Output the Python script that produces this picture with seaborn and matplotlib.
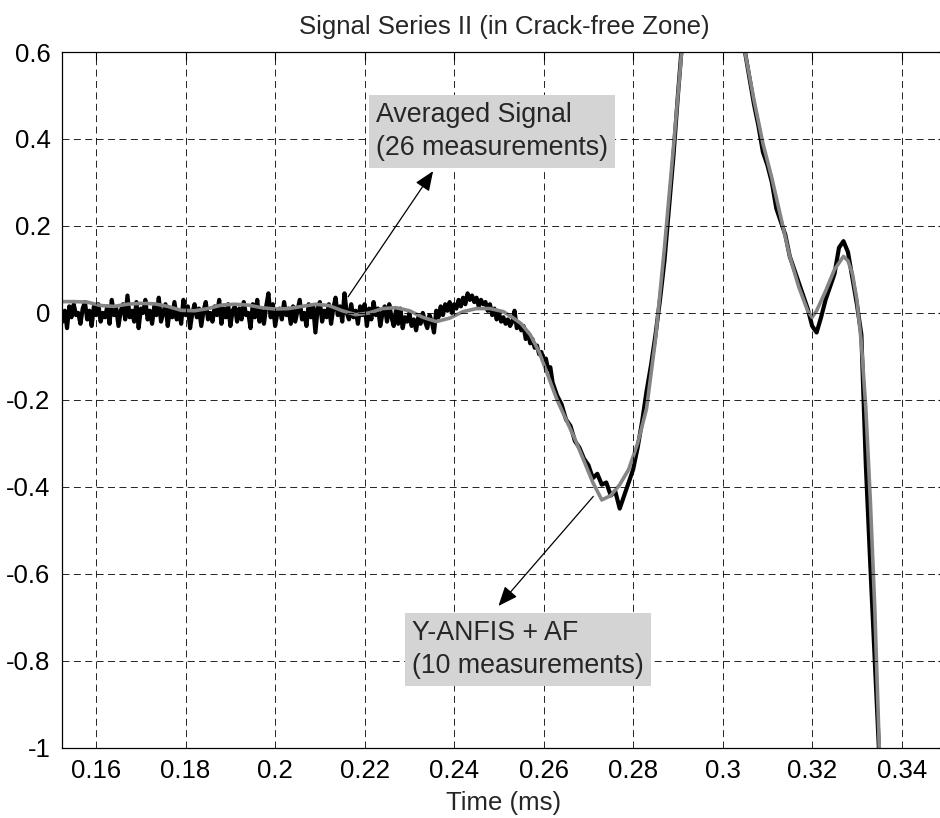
import numpy as np
import pandas as pd
import matplotlib
matplotlib.use("Agg")
import matplotlib.pyplot as plt
import seaborn as sns

# averaged signal (26 measurements), noisy part sampled every 0.0005 ms
t_avg_fine = np.round(0.152 + 0.0005 * np.arange(220), 4)
avg_fine = [
    0.01, -0.02, 0.005, -0.035, 0.015, -0.01, 0.02, -0.005, 0.0, -0.025,
    0.01, 0.025, -0.015, 0.005, -0.03, 0.015, -0.005, 0.02, -0.02, 0.0,
    -0.01, 0.015, -0.025, 0.03, -0.005, 0.01, -0.03, 0.005, 0.02, -0.015,
    0.04, -0.01, 0.005, -0.02, 0.025, -0.035, 0.01, 0.0, 0.03, -0.015,
    0.005, -0.025, 0.015, -0.005, 0.035, -0.02, 0.0, 0.02, -0.03, 0.01,
    -0.01, 0.025, -0.015, 0.005, -0.025, 0.03, -0.005, 0.015, -0.035, 0.0,
    0.02, -0.01, 0.01, -0.03, 0.005, 0.025, -0.015, 0.0, -0.02, 0.015,
    -0.005, 0.03, -0.025, 0.01, -0.01, 0.02, -0.03, 0.005, 0.015, -0.02,
    0.01, -0.015, 0.025, -0.005, 0.0, -0.035, 0.02, -0.01, 0.03, -0.02,
    0.005, -0.025, 0.015, 0.045, -0.01, 0.02, -0.03, 0.0, 0.01, -0.015,
    0.025, -0.005, 0.01, -0.025, 0.015, -0.02, 0.005, 0.03, -0.015, 0.0,
    -0.03, 0.02, -0.01, 0.015, -0.045, 0.01, 0.025, -0.02, 0.005, -0.01,
    0.02, -0.025, 0.01, 0.035, -0.005, 0.015, -0.02, 0.045, 0.0, -0.015,
    0.02, -0.01, 0.005, -0.025, 0.015, -0.005, 0.02, -0.03, 0.01, -0.015,
    0.025, -0.005, 0.01, -0.03, 0.0, 0.015, -0.02, 0.02, -0.01, -0.03,
    0.005, -0.025, 0.01, -0.035, -0.01, -0.02, 0.0, -0.03, -0.015, -0.04,
    -0.01, -0.025, 0.0, -0.02, -0.035, -0.005, -0.02, -0.045, 0.005, -0.01,
    0.015, -0.005, 0.02, 0.005, 0.025, 0.0, 0.02, 0.01, 0.03, 0.015,
    0.035, 0.02, 0.045, 0.03, 0.04, 0.025, 0.035, 0.015, 0.03, 0.02,
    0.025, 0.005, 0.02, -0.005, 0.01, -0.015, 0.0, -0.02, -0.01, -0.025,
    -0.015, -0.03, -0.02, 0.005, -0.035, -0.025, -0.04, -0.03, -0.06, -0.045,
    -0.07, -0.06, -0.08, -0.075, -0.095, -0.09, -0.11, -0.105, -0.13, -0.125,
]

# averaged signal, rest sampled every 0.001 ms
t_avg_coarse = np.round(0.262 + 0.001 * np.arange(74), 3)
avg_coarse = [
    -0.16, -0.19, -0.21, -0.245, -0.26, -0.295, -0.31, -0.335, -0.35, -0.38,
    -0.37, -0.395, -0.39, -0.42, -0.41, -0.45, -0.42, -0.39, -0.36, -0.31,
    -0.25, -0.18, -0.12, -0.05, 0.03, 0.12, 0.24, 0.36, 0.50, 0.63,
    0.76, 0.87, 0.95, 1.0, 1.02, 1.01, 0.98, 0.93, 0.86, 0.79,
    0.73, 0.69, 0.65, 0.60, 0.54, 0.48, 0.43, 0.37, 0.34, 0.30,
    0.24, 0.21, 0.18, 0.13, 0.10, 0.07, 0.04, 0.01, -0.03, -0.045,
    -0.01, 0.03, 0.06, 0.09, 0.15, 0.165, 0.14, 0.08, 0.02, -0.05,
    -0.35, -0.58, -0.80, -1.02,
]

# Y-ANFIS + AF (10 measurements)
t_anfis = [0.152, 0.155, 0.158, 0.161, 0.164, 0.167, 0.170, 0.173, 0.176, 0.179,
           0.182, 0.185, 0.188, 0.191, 0.194, 0.197, 0.200, 0.203, 0.206, 0.209,
           0.212, 0.215, 0.218, 0.221, 0.224, 0.227, 0.230, 0.233, 0.236, 0.239,
           0.242, 0.245, 0.248, 0.251, 0.253, 0.255, 0.257, 0.259, 0.261, 0.263,
           0.265, 0.267, 0.269, 0.271, 0.273, 0.275, 0.277, 0.279, 0.281, 0.283,
           0.285, 0.287, 0.289, 0.291, 0.293, 0.295, 0.297, 0.299, 0.301, 0.303,
           0.305, 0.307, 0.309, 0.311, 0.313, 0.315, 0.317, 0.319, 0.320, 0.321,
           0.323, 0.325, 0.327, 0.328, 0.329, 0.330, 0.331, 0.332, 0.333, 0.334,
           0.335]
anfis = [0.026, 0.026, 0.025, 0.017, 0.015, 0.02, 0.022, 0.021, 0.015, 0.006,
         0.005, 0.01, 0.018, 0.02, 0.018, 0.012, 0.009, 0.01, 0.015, 0.02,
         0.017, 0.005, -0.004, 0.0, 0.01, 0.012, 0.005, -0.01, -0.02, -0.012,
         0.003, 0.01, 0.01, 0.003, -0.01, -0.025, -0.05, -0.09, -0.145, -0.2,
         -0.245, -0.29, -0.34, -0.39, -0.43, -0.42, -0.395, -0.36, -0.30, -0.22,
         -0.06, 0.15, 0.38, 0.62, 0.84, 0.98, 1.02, 0.96, 0.84, 0.72,
         0.60, 0.49, 0.39, 0.31, 0.22, 0.13, 0.06, 0.005, -0.01, 0.005,
         0.05, 0.1, 0.13, 0.12, 0.09, 0.03, -0.07, -0.22, -0.43, -0.68,
         -1.0]

x_ticks = [0.16, 0.18, 0.2, 0.22, 0.24, 0.26, 0.28, 0.3, 0.32, 0.34]
y_ticks = [0.6, 0.4, 0.2, 0, -0.2, -0.4, -0.6, -0.8, -1]

avg_df = pd.DataFrame({"t": np.concatenate([t_avg_fine, t_avg_coarse]),
                       "v": avg_fine + avg_coarse})
anfis_df = pd.DataFrame({"t": t_anfis, "v": anfis})

sns.set_style("white")
plt.rcParams["font.family"] = ["Liberation Sans", "DejaVu Sans"]
plt.rcParams["lines.scale_dashes"] = False

fig = plt.figure(figsize=(9.4, 8.18), dpi=100)
ax = fig.add_axes([0.0656, 0.0859, 0.9412, 0.8505])

sns.lineplot(data=avg_df, x="t", y="v", color="black", lw=3.0,
             estimator=None, sort=False, ax=ax)
sns.lineplot(data=anfis_df, x="t", y="v", color="#858585", lw=2.6,
             estimator=None, sort=False, ax=ax)

ax.set_xlim(0.1523, 0.35)
ax.set_ylim(-1, 0.6)
ax.set_xticks(x_ticks)
ax.set_xticklabels(["%g" % v for v in x_ticks])
ax.set_yticks(y_ticks)
ax.set_yticklabels(["%g" % v for v in y_ticks])
ax.tick_params(direction="in", length=6, width=0.8, labelsize=18.5, pad=8,
               top=True, right=True, colors="black")
for s in ax.spines.values():
    s.set_color("black")
    s.set_linewidth(0.9)
ax.grid(True, color="black", linestyle=(0, (5, 3.2)), linewidth=0.6)
ax.set_axisbelow(False)

ax.set_xlabel("Time (ms)", fontsize=18.5, labelpad=6)
ax.set_ylabel("")
ax.set_title("Signal Series II (in Crack-free Zone)", fontsize=18.5, pad=13)

box = dict(facecolor="#d4d4d4", edgecolor="none", pad=5)
ax.text(0.2226, 0.417, "Averaged Signal\n(26 measurements)", fontsize=19.3,
        ha="left", va="center", linespacing=1.35, bbox=box, zorder=5)
ax.text(0.2306, -0.775, "Y-ANFIS + AF\n(10 measurements)", fontsize=19.3,
        ha="left", va="center", linespacing=1.35, bbox=box, zorder=5)

arrow = dict(arrowstyle="-|>,head_length=0.8,head_width=0.33", color="black",
             lw=0.9, mutation_scale=15, shrinkA=0, shrinkB=0)
ax.annotate("", xy=(0.2353, 0.326), xytext=(0.2163, 0.037), arrowprops=arrow)
ax.annotate("", xy=(0.2499, -0.674), xytext=(0.2711, -0.422), arrowprops=arrow)

fig.savefig("out.png", dpi=100)
